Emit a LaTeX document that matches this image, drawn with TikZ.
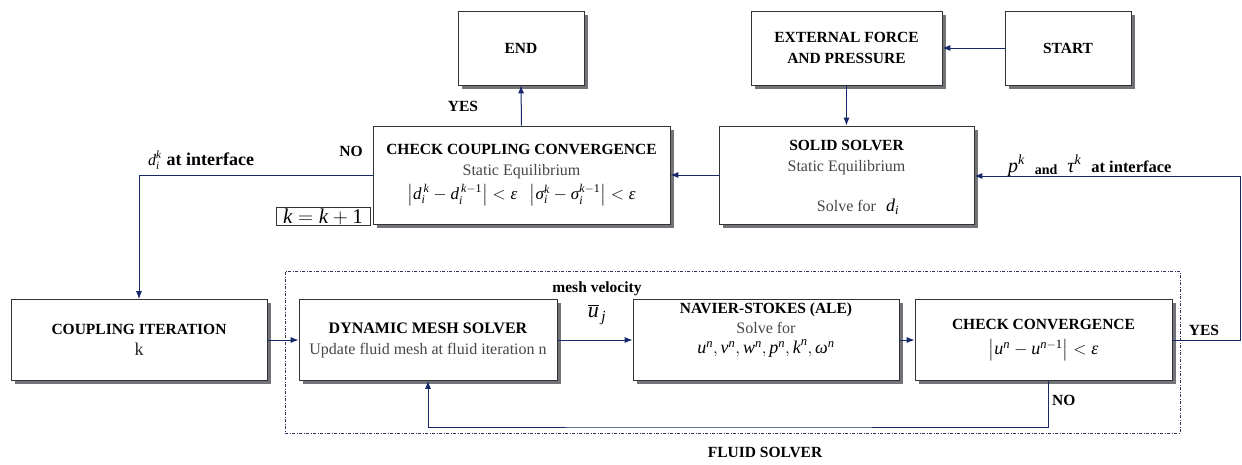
\documentclass[tikz,border=0pt]{standalone}
\usepackage{amsmath}
\usepackage{fontspec}
\setmainfont{Liberation Serif}
\usetikzlibrary{arrows.meta}

\definecolor{navy}{RGB}{22,40,105}
\definecolor{txtgray}{RGB}{70,70,70}
\definecolor{framegray}{RGB}{45,55,95}
\definecolor{shadowgray}{RGB}{115,115,122}

% fonts
\newcommand\ttlfont{\fontsize{15.5}{21}\selectfont\bfseries}
\newcommand\txtfont{\fontsize{16}{21}\selectfont\color{txtgray}}
\newcommand\mthfont{\fontsize{18}{21}\selectfont}
% italic letters and powers set in the text face
\newcommand\mi[1]{\textit{#1}}
\newcommand\pw[2]{\mi{#1}^{\mi{#2}}}

\tikzset{
  blk/.style={draw=black!80, line width=0.7pt, fill=white, align=center, inner sep=2pt,
    font=\fontsize{16}{21}\selectfont},
  shadowbox/.style={draw=none, fill=shadowgray, inner sep=0pt, xshift=3.5pt, yshift=-3.5pt},
  arr/.style={draw=navy, line width=1pt, -{Latex[length=8pt,width=6pt]}},
  lbl/.style={font=\ttlfont, inner sep=1pt},
  fluidframe/.style={draw=framegray, line width=0.9pt,
    dash pattern=on 3pt off 1.5pt on 1pt off 1.5pt},
}

% a box with its drop shadow: name, x, y, width, height, text
\newcommand\shadedbox[6]{%
  \node[shadowbox, minimum width=#4, minimum height=#5] (#1sh) at (#2,#3) {};
  \node[blk, minimum width=#4, minimum height=#5] (#1) at (#2,#3) {#6};}

\begin{document}
\begin{tikzpicture}[x=1pt, y=-1pt]
\useasboundingbox (0,0) rectangle (1242,464);

% fluid solver frame
\node[fluidframe, minimum width=895pt, minimum height=162pt, inner sep=0pt] (fluid) at (732.5,352) {};
\node[lbl] (fluidlab) at (765,452) {FLUID SOLVER};

% top row
\shadedbox{end}{521}{48}{126pt}{74pt}{\ttlfont END}
\shadedbox{ext}{846.5}{48}{191pt}{74pt}{{\ttlfont EXTERNAL FORCE}\\ {\ttlfont AND PRESSURE}}
\shadedbox{start}{1068}{48}{126pt}{74pt}{\ttlfont START}

% coupling check and solid solver
\shadedbox{ccc}{521.5}{175}{297pt}{98pt}{{\ttlfont CHECK COUPLING CONVERGENCE}\\
   {\txtfont Static Equilibrium}\\[3pt]
   {\fontsize{17}{21}\selectfont $\left|\mi{d}_{\mi{i}}^{\,\mi{k}}-\mi{d}_{\mi{i}}^{\,\mi{k}-\textup{1}}\right|<\mi{ε}\;\;\left|\mi{σ}_{\mi{i}}^{\mi{k}}-\mi{σ}_{\mi{i}}^{\mi{k}-\textup{1}}\right|<\mi{ε}$}}

\shadedbox{solid}{846.5}{175}{255pt}{98pt}{}
\node[align=center, inner sep=0pt, font=\fontsize{16}{21}\selectfont] (solidtxt) at (846.5,158)
  {{\ttlfont SOLID SOLVER}\\ {\txtfont Static Equilibrium}};
\node[inner sep=0pt] (solvefor) at (858,207)
  {{\txtfont Solve for}\quad{\mthfont $\mi{d}_{\mi{i}}$}};

% fluid loop
\shadedbox{coup}{139}{340}{256pt}{81pt}{{\ttlfont COUPLING ITERATION}\\ {\fontsize{18}{21}\selectfont\color{black!85}k}}
\shadedbox{dyn}{428}{340}{258pt}{81pt}{{\fontsize{16}{21}\selectfont\bfseries DYNAMIC MESH SOLVER}\\ {\txtfont Update fluid mesh at fluid iteration n}}
\shadedbox{ns}{766}{340}{266pt}{81pt}{}
\node[align=center, inner sep=0pt, font=\fontsize{16}{20}\selectfont] (nstxt) at (766,330)
  {{\ttlfont NAVIER-STOKES (ALE)}\\ {\txtfont Solve for}\\
   {\mthfont $\pw{u}{n},\pw{v}{n},\pw{w}{n},\pw{p}{n},\pw{k}{n},\pw{ω}{n}$}};
\shadedbox{cc}{1043.5}{340}{257pt}{81pt}{{\ttlfont CHECK CONVERGENCE}\\[4pt] {\mthfont $\left|\pw{u}{n}-\mi{u}^{\mi{n}-\textup{1}}\right|<\mi{ε}$}}

% labels
\node[lbl] (yes1) at (463,106) {YES};
\node[lbl] (no1) at (351,151) {NO};
\node[inner sep=1pt, anchor=base west] (dlab) at (147,165)
  {{\fontsize{16}{18}\selectfont$\mi{d}_{\mi{i}}^{\mi{k}}$}\ \ {\fontsize{18}{20}\selectfont\bfseries at interface}};
\node[draw=black!80, line width=0.6pt, inner sep=0pt, minimum width=94pt, minimum height=18pt]
  (kinc) at (323,216.5) {\fontsize{21}{22}\selectfont $\mi{k}=\mi{k}+\textup{1}$};
\node[lbl] (meshv) at (597,289) {mesh velocity};
\node[inner sep=0pt] (uj) at (597,314) {\fontsize{22}{24}\selectfont $\overline{\mi{u}}_{\,\mi{j}}$};
\node[inner sep=0pt, anchor=base west] (plab) at (1008,172)
  {{\fontsize{20}{20}\selectfont $\pw{p}{k}$}\quad{\fontsize{14}{14}\selectfont\bfseries\raisebox{-2pt}{and}}\quad{\fontsize{20}{20}\selectfont $\pw{τ}{k}$}\quad{\fontsize{16.5}{18}\selectfont\bfseries at interface}};
\node[lbl] (yes2) at (1204,330) {YES};
\node[lbl, anchor=west] (no2) at (1051,400) {NO};

% connector corners
\coordinate (yesturn) at (1240,340);
\coordinate (ifturn) at (1240,176);
\coordinate (loopbot) at (700,427);

% connectors
\draw[arr] (start.west) -- (ext.east);
\draw[arr] (ext.south) -- (solid.north);
\draw[arr] (solid.west) -- (ccc.east);
\draw[arr] (ccc.north) -- (end.south);
\draw[arr] (ccc.west) -| (coup.north);
\draw[arr] (coup.east) -- (dyn.west);
\draw[arr] (dyn.east) -- (ns.west);
\draw[arr] (ns.east) -- (cc.west);
\draw[arr] (cc.east) -- (yesturn) -- (ifturn) -- (ifturn -| solid.east);
\draw[arr] ([xshift=4.5pt]cc.south) |- (loopbot) -| (dyn.south);
\end{tikzpicture}
\end{document}
